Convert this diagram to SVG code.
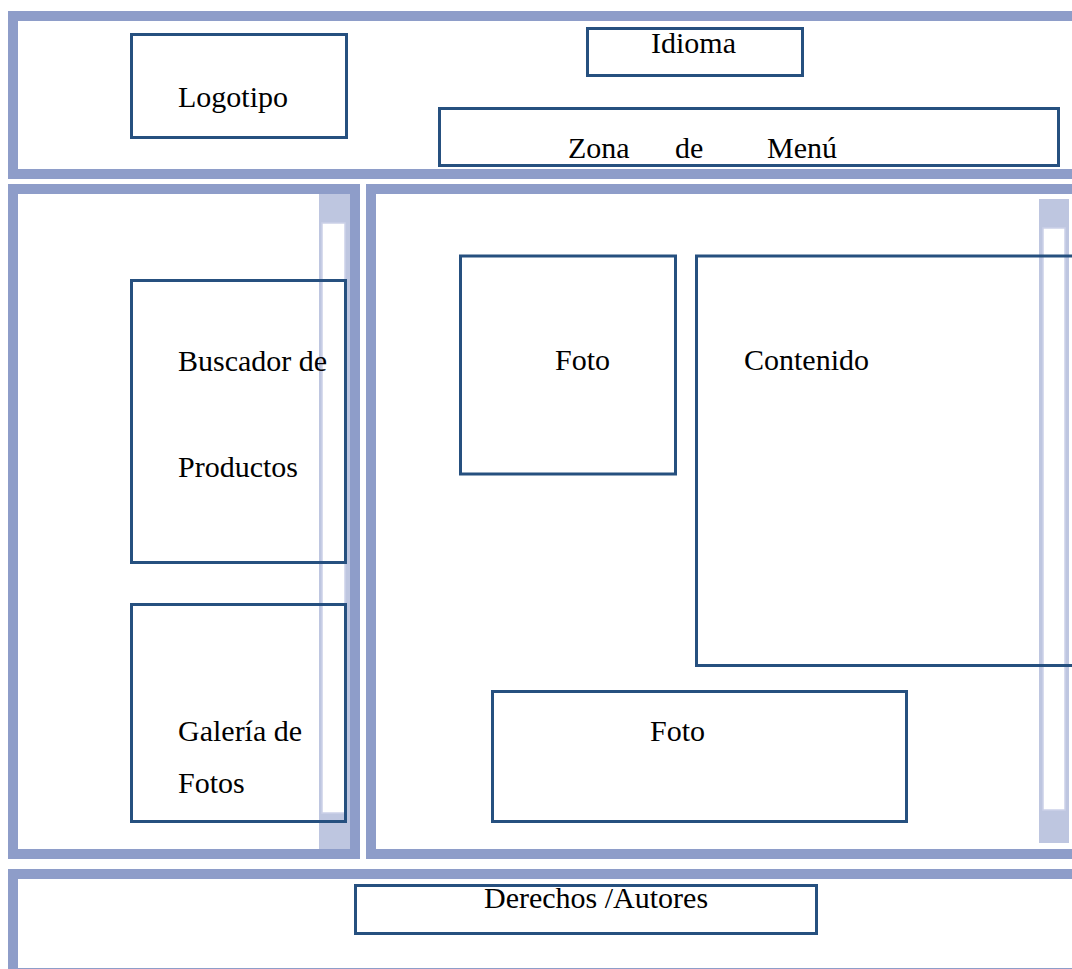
<svg xmlns="http://www.w3.org/2000/svg" width="1072" height="969" viewBox="0 0 1072 969">
  <style>
    .panel { fill: none; stroke: #8E9DC9; stroke-width: 10; }
    .track { fill: #BEC6E0; }
    .thumb { fill: #FFFFFF; stroke: #CBD1E8; stroke-width: 1.5; }
    .box { fill: none; stroke: #26507F; stroke-width: 3; }
    .label { font-family: "Liberation Serif", "Times New Roman", serif; font-size: 30px; fill: #000000; }
  </style>
  <rect x="0" y="0" width="1072" height="969" fill="#FFFFFF"/>

  <!-- page frames -->
  <g id="frames">
    <rect class="panel" x="13" y="16" width="1080" height="158"/>
    <rect class="panel" x="13" y="189" width="342" height="665"/>
    <rect class="panel" x="371" y="189" width="720" height="665"/>
    <rect class="panel" x="13" y="874" width="1080" height="99"/>
  </g>

  <!-- scroll bars -->
  <g id="scrollbars">
    <rect class="track" x="319" y="194" width="31" height="655"/>
    <rect class="thumb" x="322" y="223" width="23" height="590"/>
    <rect class="track" x="1039" y="199" width="30" height="644"/>
    <rect class="thumb" x="1043" y="228" width="22" height="582"/>
  </g>

  <!-- header -->
  <g id="logotipo">
    <rect class="box" x="131.5" y="34.5" width="215" height="103"/>
    <text class="label" x="178" y="107">Logotipo</text>
  </g>
  <g id="idioma">
    <rect class="box" x="587.5" y="28.5" width="215" height="47"/>
    <text class="label" x="651" y="53">Idioma</text>
  </g>
  <g id="menu">
    <rect class="box" x="439.5" y="108.5" width="619" height="57"/>
    <text class="label" x="568" y="158">Zona</text>
    <text class="label" x="675" y="158">de</text>
    <text class="label" x="767" y="158">Menú</text>
  </g>

  <!-- side column -->
  <g id="buscador">
    <rect class="box" x="131.5" y="280.5" width="214" height="282"/>
    <text class="label" x="178" y="371">Buscador de</text>
    <text class="label" x="178" y="477">Productos</text>
  </g>
  <g id="galeria">
    <rect class="box" x="131.5" y="604.5" width="214" height="217"/>
    <text class="label" x="178" y="741">Galería de</text>
    <text class="label" x="178" y="793">Fotos</text>
  </g>

  <!-- main column -->
  <g id="foto-1">
    <rect class="box" x="460.5" y="256" width="215" height="218"/>
    <text class="label" x="555" y="370">Foto</text>
  </g>
  <g id="contenido">
    <rect class="box" x="696.5" y="256" width="400" height="409.5"/>
    <text class="label" x="744" y="370">Contenido</text>
  </g>
  <g id="foto-2">
    <rect class="box" x="492.5" y="691.5" width="414" height="130"/>
    <text class="label" x="650" y="741">Foto</text>
  </g>

  <!-- footer -->
  <g id="derechos">
    <rect class="box" x="355.5" y="885.5" width="461" height="48"/>
    <text class="label" x="484" y="908">Derechos /Autores</text>
  </g>

  <g id="connectors"/>
</svg>
